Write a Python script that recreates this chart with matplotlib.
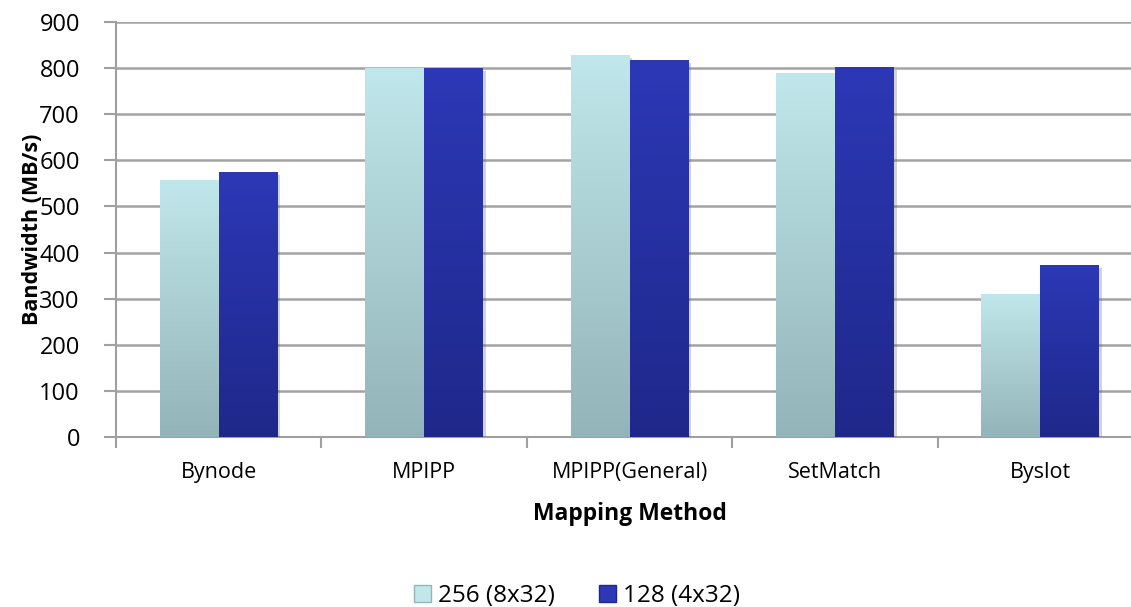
import matplotlib.pyplot as plt
import matplotlib.patheffects as pe
from matplotlib.patches import Patch
import numpy as np

methods = ['Bynode', 'MPIPP', 'MPIPP(General)', 'SetMatch', 'Byslot']
bw_256 = [557, 801, 829, 790, 310]
bw_128 = [575, 800, 818, 803, 373]
series_names = ['256 (8x32)', '128 (4x32)']

plt.rcParams['font.family'] = ['Open Sans', 'DejaVu Sans']

# (top colour, bottom colour) for the vertical fill of each series
grads = [('#c0e7eb', '#93b4b8'), ('#2c38b6', '#1f288a')]


def gradient_bar(ax, x, h, w, top, bottom):
    # shadow first, then the bar, then the gradient clipped to the bar
    bar = ax.bar(x, h, w, color=bottom, zorder=3, linewidth=0,
                 path_effects=[pe.SimplePatchShadow(offset=(2, -2), alpha=0.25, shadow_rgbFace='#555555'),
                               pe.Normal()])[0]
    c0 = np.array(plt.matplotlib.colors.to_rgb(top))
    c1 = np.array(plt.matplotlib.colors.to_rgb(bottom))
    t = np.linspace(0, 1, 256)[:, None]
    img = (c0 * (1 - t) + c1 * t)[:, None, :]
    im = ax.imshow(img, extent=[x - w / 2, x + w / 2, 0, h], aspect='auto', zorder=4,
                   interpolation='bilinear')
    im.set_clip_path(bar)


fig = plt.figure(figsize=(11.31, 6.07), dpi=100)
ax = fig.add_axes([116 / 1131, 170 / 607, 1027 / 1131, 415 / 607])

x = np.arange(len(methods))
w = 0.287
for i in range(len(methods)):
    gradient_bar(ax, x[i] - w / 2, bw_256[i], w, *grads[0])
    gradient_bar(ax, x[i] + w / 2, bw_128[i], w, *grads[1])

ax.set_xlim(-0.5, len(methods) - 0.5)
ax.set_ylim(0, 900)
ax.set_yticks(range(0, 901, 100))
ax.yaxis.grid(True, color='#a3a3a3', linewidth=1.8, zorder=1)
ax.set_axisbelow(True)

# category boundaries get the tick marks, centres get the labels
ax.set_xticks(np.arange(-0.5, len(methods), 1.0))
ax.set_xticklabels([])
ax.set_xticks(x, minor=True)
ax.set_xticklabels(methods, minor=True)
ax.tick_params(axis='x', which='major', length=8, width=1.5, color='#a0a0a0', direction='out')
ax.tick_params(axis='x', which='minor', length=0, labelsize=15.5, pad=18)
ax.tick_params(axis='y', length=9, width=1.5, color='#a0a0a0', labelsize=17, pad=17)

for s in ['top', 'right']:
    ax.spines[s].set_visible(False)
for s in ['left', 'bottom']:
    ax.spines[s].set_color('#a0a0a0')
    ax.spines[s].set_linewidth(1.5)

ax.set_ylabel('Bandwidth (MB/s)', fontsize=15.5, fontweight='bold', labelpad=-3)
ax.set_xlabel('Mapping Method', fontsize=16.5, fontweight='bold', labelpad=14)

handles = [Patch(facecolor=grads[0][0], edgecolor=grads[0][1]),
           Patch(facecolor=grads[1][0], edgecolor=grads[1][1])]
fig.legend(handles, series_names, loc='center', bbox_to_anchor=(0.51, 0.018),
           ncol=2, frameon=False, fontsize=17.5, handlelength=0.7, handleheight=0.7,
           handletextpad=0.3, columnspacing=1.8)

fig.savefig('out.png', dpi=100)
